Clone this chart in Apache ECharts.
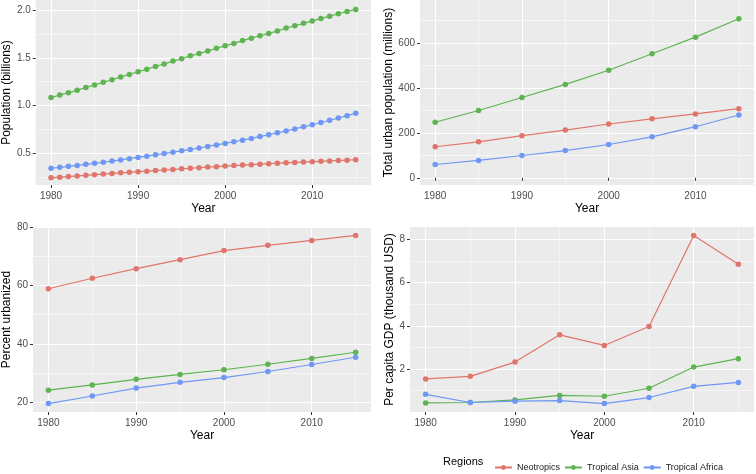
<!DOCTYPE html>
<html><head><meta charset="utf-8">
<script src="https://cdn.jsdelivr.net/npm/echarts@6/dist/echarts.min.js"></script>
<style>html,body{margin:0;padding:0;background:#fff}#c{width:756px;height:474px}</style>
</head><body><div id="c"></div>
<script>
const regions = ['Neotropics', 'Tropical Asia', 'Tropical Africa'];
const annualYears = [1980,1981,1982,1983,1984,1985,1986,1987,1988,1989,1990,1991,1992,1993,1994,1995,1996,1997,1998,1999,2000,2001,2002,2003,2004,2005,2006,2007,2008,2009,2010,2011,2012,2013,2014,2015];
const fiveYears = [1980,1985,1990,1995,2000,2005,2010,2015];

// Population (billions), annual
const popNeotropics = [0.245,0.252,0.258,0.265,0.271,0.278,0.284,0.291,0.297,0.303,0.309,0.315,0.321,0.327,0.333,0.339,0.345,0.351,0.357,0.362,0.368,0.373,0.378,0.383,0.388,0.393,0.398,0.402,0.406,0.410,0.414,0.418,0.422,0.426,0.430,0.434];
const popTropicalAsia = [1.085,1.110,1.135,1.160,1.190,1.215,1.245,1.270,1.300,1.325,1.355,1.380,1.410,1.435,1.465,1.490,1.520,1.545,1.570,1.600,1.625,1.650,1.680,1.705,1.730,1.755,1.780,1.810,1.835,1.860,1.885,1.910,1.935,1.960,1.985,2.005];
const popTropicalAfrica = [0.345,0.355,0.365,0.375,0.386,0.397,0.408,0.420,0.432,0.445,0.458,0.471,0.485,0.499,0.513,0.527,0.542,0.557,0.573,0.589,0.605,0.622,0.639,0.657,0.676,0.695,0.715,0.735,0.756,0.778,0.800,0.823,0.846,0.870,0.895,0.920];

// Total urban population (millions), every 5 years
const urbNeotropics = [138,160,187,212,239,262,284,307];
const urbTropicalAsia = [247,299,357,415,478,551,625,707];
const urbTropicalAfrica = [59,77,99,121,148,182,227,279];

// Percent urbanized
const pctNeotropics = [58.9,62.5,65.8,68.9,72.0,73.8,75.5,77.2];
const pctTropicalAsia = [24.1,25.9,27.8,29.5,31.1,33.0,35.0,37.1];
const pctTropicalAfrica = [19.5,22.1,24.8,26.8,28.4,30.5,32.9,35.4];

// Per capita GDP (thousand USD)
const gdpNeotropics = [1.54,1.66,2.32,3.58,3.09,3.97,8.18,6.85];
const gdpTropicalAsia = [0.43,0.45,0.57,0.78,0.74,1.11,2.09,2.48];
const gdpTropicalAfrica = [0.83,0.45,0.51,0.54,0.40,0.68,1.20,1.38];

const xMajorTicks = [1980,1990,2000,2010];
const xMinorTicks = [1985,1995,2005,2015];
const popTicks = [0.5,1.0,1.5,2.0];
const popMinorTicks = [0.25,0.75,1.25,1.75];
const urbTicks = [0,200,400,600];
const urbMinorTicks = [100,300,500,700];
const pctTicks = [20,40,60,80];
const pctMinorTicks = [30,50,70];
const gdpTicks = [2,4,6,8];
const gdpMinorTicks = [1,3,5,7];

const colors = ['#E0756B', '#5DB450', '#6F97F5'];
const FONT = "'Liberation Sans', Arial, Helvetica, sans-serif";

const panels = [
  {grid:{left:35, top:0, width:336, height:185}, yMin:0.17, yMax:2.104, yName:'Population (billions)', nameGap:17,
   ticks:popTicks, minor:popMinorTicks, fmt:v=>v.toFixed(1), years:annualYears, data:[popNeotropics,popTropicalAsia,popTropicalAfrica]},
  {grid:{left:420, top:0, width:334, height:185}, yMin:-32, yMax:790, yName:'Total urban population (millions)', nameGap:22,
   ticks:urbTicks, minor:urbMinorTicks, fmt:v=>String(v), years:fiveYears, data:[urbNeotropics,urbTropicalAsia,urbTropicalAfrica]},
  {grid:{left:32, top:227, width:339, height:185}, yMin:16.6, yMax:80.1, yName:'Percent urbanized', nameGap:18,
   ticks:pctTicks, minor:pctMinorTicks, fmt:v=>String(v), years:fiveYears, data:[pctNeotropics,pctTropicalAsia,pctTropicalAfrica]},
  {grid:{left:410, top:227, width:344, height:185}, yMin:0.011, yMax:8.57, yName:'Per capita GDP (thousand USD)', nameGap:10,
   ticks:gdpTicks, minor:gdpMinorTicks, fmt:v=>String(v), years:fiveYears, data:[gdpNeotropics,gdpTropicalAsia,gdpTropicalAfrica]}
];

const grid = [], xAxis = [], yAxis = [], series = [];
panels.forEach((p, gi) => {
  grid.push(Object.assign({show:true, backgroundColor:'#EBEBEB', borderWidth:0, containLabel:false}, p.grid));
  xAxis.push({type:'value', gridIndex:gi, min:1978.25, max:2016.75,
    name:'Year', nameLocation:'middle', nameGap:18,
    nameTextStyle:{color:'#000', fontSize:12, fontFamily:FONT},
    axisLine:{show:false},
    axisTick:{show:true, length:3, customValues:xMajorTicks, lineStyle:{color:'#333', width:1}},
    axisLabel:{customValues:xMajorTicks, formatter:v=>String(v), color:'#4D4D4D', fontSize:10, fontFamily:FONT, margin:6},
    splitLine:{show:true, lineStyle:{color:'#FFFFFF', width:1.1}}});
  xAxis.push({type:'value', gridIndex:gi, min:1978.25, max:2016.75,
    axisLine:{show:false}, axisLabel:{show:false},
    axisTick:{show:false, customValues:xMinorTicks},
    splitLine:{show:true, lineStyle:{color:'#FFFFFF', width:0.5}}});
  yAxis.push({type:'value', gridIndex:gi, min:p.yMin, max:p.yMax,
    name:p.yName, nameLocation:'middle', nameGap:p.nameGap, nameRotate:90,
    nameTextStyle:{color:'#000', fontSize:12, fontFamily:FONT},
    axisLine:{show:false},
    axisTick:{show:true, length:3, customValues:p.ticks, lineStyle:{color:'#333', width:1}},
    axisLabel:{customValues:p.ticks, formatter:p.fmt, color:'#4D4D4D', fontSize:10, fontFamily:FONT, margin:5},
    splitLine:{show:true, lineStyle:{color:'#FFFFFF', width:1.1}}});
  yAxis.push({type:'value', gridIndex:gi, min:p.yMin, max:p.yMax,
    axisLine:{show:false}, axisLabel:{show:false},
    axisTick:{show:false, customValues:p.minor},
    splitLine:{show:true, lineStyle:{color:'#FFFFFF', width:0.5}}});
  p.data.forEach((vals, si) => {
    series.push({type:'line', name:regions[si], xAxisIndex:gi*2, yAxisIndex:gi*2,
      data:p.years.map((y, i) => [y, vals[i]]),
      symbol:'circle', symbolSize:5.5, showSymbol:true,
      lineStyle:{color:colors[si], width:1.2},
      itemStyle:{color:colors[si]},
      emphasis:{disabled:true}, z:3});
  });
});

const chart = echarts.init(document.getElementById('c'), null, {renderer:'canvas'});
chart.setOption({
  animation:false,
  backgroundColor:'#FFFFFF',
  color:colors,
  textStyle:{fontFamily:FONT},
  grid, xAxis, yAxis, series,
  legend:{data:regions, left:489, top:458, itemWidth:17, itemHeight:6, itemGap:4,
    textStyle:{fontSize:9, color:'#1A1A1A', fontFamily:FONT}},
  graphic:[{type:'text', left:443, top:456, style:{text:'Regions', fontSize:11, fill:'#000', fontFamily:FONT}}]
});
</script></body></html>
